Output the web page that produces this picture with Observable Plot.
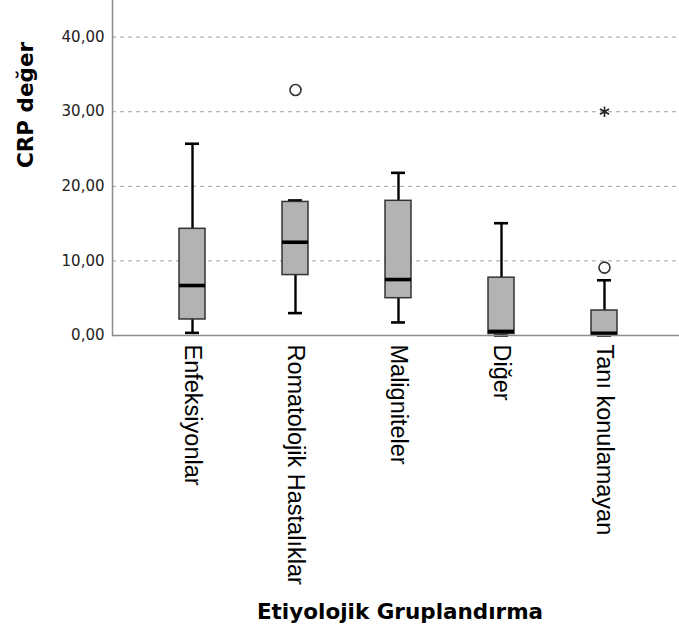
<!DOCTYPE html>
<html>
<head>
<meta charset="utf-8">
<script src="https://cdn.jsdelivr.net/npm/d3@7"></script>
<script src="https://cdn.jsdelivr.net/npm/@observablehq/plot@0.6"></script>
<style>
  html, body { margin: 0; padding: 0; background: #fff; }
</style>
</head>
<body>
<div id="chart"></div>
<script>
const categories = ["Enfeksiyonlar", "Romatolojik Hastalıklar", "Maligniteler", "Diğer", "Tanı konulamayan"];
const whiskerLow  = [0.35, 3.0, 1.75, 0.0, 0.0];
const q1          = [2.15, 8.1, 5.0, 0.2, 0.1];
const median      = [6.7, 12.5, 7.5, 0.55, 0.3];
const q3          = [14.3, 17.9, 18.05, 7.75, 3.35];
const whiskerHigh = [25.7, 18.1, 21.8, 15.05, 7.4];

const outlierCategory = ["Romatolojik Hastalıklar", "Tanı konulamayan"];
const outlierValue    = [32.9, 9.1];
const extremeCategory = ["Tanı konulamayan"];
const extremeValue    = [30.0];

const yTicks = [0, 10, 20, 30, 40];
const yTitle = "CRP değer";
const xTitle = "Etiyolojik Gruplandırma";

const boxes = categories.map((c, i) => ({
  cat: c, lo: whiskerLow[i], q1: q1[i], med: median[i], q3: q3[i], hi: whiskerHigh[i]
}));
const outliers = outlierCategory.map((c, i) => ({cat: c, v: outlierValue[i]}));
const extremes = extremeCategory.map((c, i) => ({cat: c, v: extremeValue[i]}));

const fmt = d => d.toFixed(2).replace(".", ",");

const chart = Plot.plot({
  width: 679,
  height: 641,
  marginLeft: 112,
  marginRight: 0,
  marginTop: 0,
  marginBottom: 306,
  style: {fontFamily: "'DejaVu Sans', sans-serif", background: "#fff"},
  x: {domain: categories, range: [140.3, 656.8], paddingInner: 0.745, paddingOuter: 0.3725},
  y: {domain: [0, 44.9]},
  marks: [
    Plot.ruleY(yTicks.filter(d => d > 0), {stroke: "#b4b4b4", strokeWidth: 1.3, strokeDasharray: "4,4"}),
    Plot.axisY({ticks: yTicks, tickFormat: fmt, tickSize: 0, tickPadding: 8, fontSize: 15, fill: "#222", label: null}),
    Plot.axisX({tickSize: 0, tickPadding: 9, tickRotate: 90, fontSize: 23.5, fontFamily: "'Liberation Sans', Arial, sans-serif", fill: "#000", label: null}),
    Plot.ruleX(boxes, {x: "cat", y1: "lo", y2: "q1", stroke: "#000", strokeWidth: 2.4}),
    Plot.ruleX(boxes, {x: "cat", y1: "q3", y2: "hi", stroke: "#000", strokeWidth: 2.4}),
    Plot.tickY(boxes, {x: "cat", y: "lo", stroke: "#000", strokeWidth: 2.6, insetLeft: 6, insetRight: 6}),
    Plot.tickY(boxes, {x: "cat", y: "hi", stroke: "#000", strokeWidth: 2.6, insetLeft: 6, insetRight: 6}),
    Plot.barY(boxes, {x: "cat", y1: "q1", y2: "q3", fill: "#b3b3b3", stroke: "#333", strokeWidth: 1.5}),
    Plot.tickY(boxes, {x: "cat", y: "med", stroke: "#000", strokeWidth: 3.6}),
    Plot.dot(outliers, {x: "cat", y: "v", r: 5.5, stroke: "#333", strokeWidth: 1.6, fill: "none"}),
    Plot.dot(extremes, {x: "cat", y: "v", r: 5, symbol: "asterisk", stroke: "#222", strokeWidth: 1.6}),
    Plot.ruleY([0], {stroke: "#8c8c8c", strokeWidth: 1.5}),
    Plot.frame({anchor: "left", stroke: "#8c8c8c", strokeWidth: 1.5}),
    Plot.text([yTitle], {frameAnchor: "left", rotate: -90, dx: -86, fontSize: 21.5, fontWeight: "bold", fill: "#000"}),
    Plot.text([xTitle], {frameAnchor: "bottom", dx: 4, dy: 283, fontSize: 21.5, fontWeight: "bold", fill: "#000"})
  ]
});
document.getElementById("chart").appendChild(chart);
</script>
</body>
</html>
